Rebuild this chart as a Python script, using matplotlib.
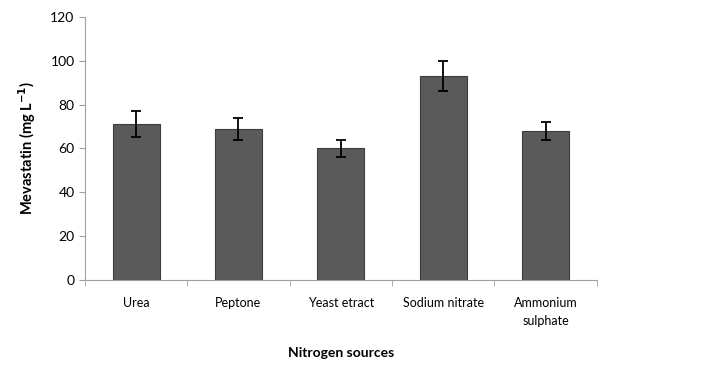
import matplotlib
matplotlib.use('Agg')
import matplotlib.pyplot as plt
import numpy as np

# dados
sources = ['Urea', 'Peptone', 'Yeast etract', 'Sodium nitrate', 'Ammonium\nsulphate']
mevastatin = [71, 69, 60, 93, 68]
erro = [6, 5, 4, 7, 4]

plt.rcParams['font.family'] = ['Lato', 'DejaVu Sans']

fig = plt.figure(figsize=(7.02, 3.84), dpi=100)
ax = fig.add_axes([0.121, 0.271, 0.729, 0.685])

x = np.arange(len(sources))
ax.bar(x, mevastatin, width=0.46, color='#5a5a5a', edgecolor='#3c3c3c', linewidth=0.8,
       yerr=erro, error_kw=dict(ecolor='black', elinewidth=1.3, capsize=3.5, capthick=1.3))

ax.set_xlim(-0.5, len(sources) - 0.5)
ax.set_ylim(0, 120)
ax.set_yticks(np.arange(0, 121, 20))
ax.set_xticks(x)
ax.set_xticklabels(sources, fontsize=9, linespacing=1.6)
ax.set_xticks(np.arange(-0.5, len(sources)), minor=True)
ax.tick_params(axis='x', which='major', length=0, pad=12)
ax.tick_params(axis='x', which='minor', length=4, color='#a0a0a0')
ax.tick_params(axis='y', length=4, color='#a0a0a0', labelsize=10)

for s in ['top', 'right']:
    ax.spines[s].set_visible(False)
for s in ['left', 'bottom']:
    ax.spines[s].set_color('#a0a0a0')

ax.set_ylabel(r'Mevastatin (mg L$^{\mathbf{-1}}$)', fontsize=10.5, fontweight='bold', labelpad=9)
ax.set_xlabel('Nitrogen sources', fontsize=10, fontweight='bold', labelpad=15)

fig.savefig('out.png', dpi=100)
